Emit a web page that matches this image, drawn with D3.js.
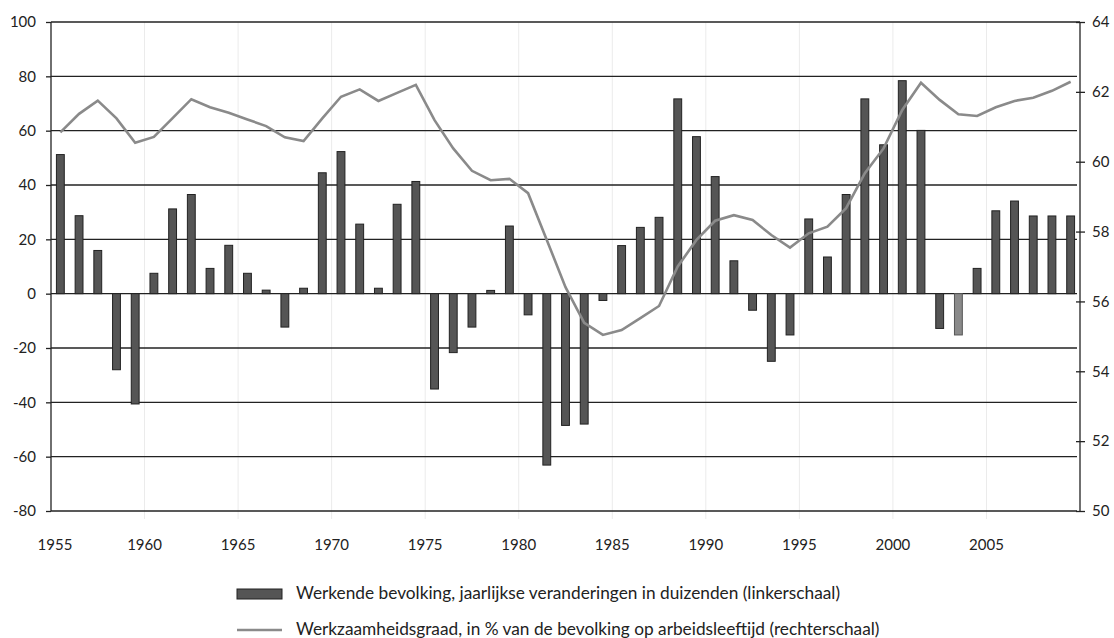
<!DOCTYPE html>
<html>
<head>
<meta charset="utf-8">
<script src="https://cdn.jsdelivr.net/npm/d3@7"></script>
<style>
  html, body { margin: 0; padding: 0; background: #fff; }
  svg { display: block; font-family: Lato, "Open Sans", sans-serif; }
</style>
</head>
<body>
<svg id="chart" width="1114" height="638"></svg>
<script>
// ---- Data ----
const years = [1955,1956,1957,1958,1959,1960,1961,1962,1963,1964,
  1965,1966,1967,1968,1969,1970,1971,1972,1973,1974,
  1975,1976,1977,1978,1979,1980,1981,1982,1983,1984,
  1985,1986,1987,1988,1989,1990,1991,1992,1993,1994,
  1995,1996,1997,1998,1999,2000,2001,2002,2003,2004,
  2005,2006,2007,2008,2009];

// Werkende bevolking, jaarlijkse veranderingen (duizenden) - left scale
const workforceChange = [51.2, 28.7, 15.9, -28.0, -40.6, 7.5, 31.2, 36.5, 9.3, 17.8,
  7.5, 1.3, -12.3, 2.0, 44.5, 52.3, 25.6, 2.0, 32.9, 41.3,
  -35.1, -21.7, -12.3, 1.2, 24.9, -7.8, -63.1, -48.5, -48.0, -2.5,
  17.7, 24.4, 28.1, 71.7, 57.8, 43.1, 12.1, -6.1, -24.9, -15.2,
  27.5, 13.5, 36.5, 71.7, 54.8, 78.4, 60.1, -12.8, -15.2, 9.3,
  30.5, 34.1, 28.6, 28.6, 28.6];

// Werkzaamheidsgraad (%) - right scale
const employmentRate = [60.84, 61.37, 61.75, 61.24, 60.54, 60.71, 61.25, 61.79, 61.56, 61.40,
  61.21, 61.02, 60.70, 60.59, 61.24, 61.86, 62.07, 61.74, 61.97, 62.20,
  61.19, 60.38, 59.74, 59.47, 59.51, 59.10, 57.76, 56.41, 55.39, 55.04,
  55.18, 55.52, 55.87, 57.00, 57.76, 58.31, 58.47, 58.33, 57.90, 57.54,
  57.95, 58.14, 58.67, 59.67, 60.38, 61.48, 62.26, 61.77, 61.36, 61.31,
  61.56, 61.74, 61.83, 62.03, 62.29];

// Highlighted (lighter) bar
const lighterYears = [2003];

const leftTicks = [100, 80, 60, 40, 20, 0, -20, -40, -60, -80];
const rightTicks = [64, 62, 60, 58, 56, 54, 52, 50];
const xTickYears = [1955, 1960, 1965, 1970, 1975, 1980, 1985, 1990, 1995, 2000, 2005];
const xGridYears = [1960, 1965, 1970, 1975, 1980, 1985, 1990, 1995, 2000, 2005];

const legendLabels = [
  "Werkende bevolking, jaarlijkse veranderingen in duizenden (linkerschaal)",
  "Werkzaamheidsgraad, in % van de bevolking op arbeidsleeftijd (rechterschaal)"
];

// ---- Layout ----
const svg = d3.select("#chart");
const L = 51, R = 1080, T = 22, B = 511;

const x = d3.scaleBand().domain(years).range([L, R]).paddingInner(0.58).paddingOuter(0.29);
const step = x.step();
const yL = d3.scaleLinear().domain([-80, 100]).range([B, T]);
const yR = d3.scaleLinear().domain([50, 64]).range([B, T]);

const dark = "#222";
const fmt = d => String(d);

// faint vertical gridlines
svg.append("g").selectAll("line").data(xGridYears).join("line")
  .attr("x1", d => x(d) - (step - x.bandwidth()) / 2)
  .attr("x2", d => x(d) - (step - x.bandwidth()) / 2)
  .attr("y1", T).attr("y2", B + 8)
  .attr("stroke", "#ebebeb").attr("stroke-width", 1);

// horizontal gridlines
svg.append("g").selectAll("line").data(leftTicks).join("line")
  .attr("x1", L).attr("x2", d => d === 100 ? R : R - 3)
  .attr("y1", d => yL(d)).attr("y2", d => yL(d))
  .attr("stroke", dark).attr("stroke-width", 1.3);

// left axis
const gL = svg.append("g").attr("transform", `translate(${L},0)`)
  .call(d3.axisLeft(yL).tickValues(leftTicks).tickSize(5).tickPadding(10).tickFormat(fmt));
gL.select(".domain").attr("stroke", dark).attr("stroke-width", 1.3).attr("d", `M0,${T}V${B}`);
gL.selectAll(".tick line").attr("stroke", dark).attr("stroke-width", 1.3);
gL.selectAll(".tick text").attr("font-size", 15).attr("fill", dark).attr("font-family", "Lato");

// right axis
const gR = svg.append("g").attr("transform", `translate(${R},0)`)
  .call(d3.axisRight(yR).tickValues(rightTicks).tickSize(5).tickPadding(7).tickFormat(fmt));
gR.select(".domain").attr("stroke", dark).attr("stroke-width", 1.3).attr("d", `M0,${T}V${B}`);
gR.selectAll(".tick line").attr("stroke", dark).attr("stroke-width", 1.3).attr("x1", -4);
gR.selectAll(".tick text").attr("font-size", 15).attr("fill", dark).attr("font-family", "Lato");

// x labels
svg.append("g").selectAll("text").data(xTickYears).join("text")
  .attr("x", d => x(d) - (step - x.bandwidth()) / 2 + (d === 1955 ? 4 : 0))
  .attr("y", 550)
  .attr("text-anchor", "middle")
  .attr("font-size", 15).attr("fill", dark)
  .text(d => d);

// bars
svg.append("g").selectAll("rect").data(years.map((yr, i) => ({yr, v: workforceChange[i]}))).join("rect")
  .attr("x", d => x(d.yr))
  .attr("width", x.bandwidth())
  .attr("y", d => yL(Math.max(0, d.v)))
  .attr("height", d => Math.abs(yL(d.v) - yL(0)))
  .attr("fill", d => lighterYears.includes(d.yr) ? "#8a8a8a" : "#555")
  .attr("stroke", d => lighterYears.includes(d.yr) ? "#555" : "#222")
  .attr("stroke-width", 1);

// line
const line = d3.line()
  .x((d, i) => x(years[i]) + x.bandwidth() / 2)
  .y(d => yR(d));
svg.append("path").datum(employmentRate)
  .attr("d", line)
  .attr("fill", "none")
  .attr("stroke", "#8a8a8a")
  .attr("stroke-width", 2.6)
  .attr("stroke-linejoin", "miter");

// legend
const lg = svg.append("g");
lg.append("rect").attr("x", 237).attr("y", 589).attr("width", 45).attr("height", 10)
  .attr("fill", "#555").attr("stroke", "#222").attr("stroke-width", 1);
lg.append("line").attr("x1", 237).attr("x2", 282).attr("y1", 630).attr("y2", 630)
  .attr("stroke", "#8a8a8a").attr("stroke-width", 2.6);
const lt = lg.selectAll("text").data(legendLabels).join("text")
  .attr("x", 296)
  .attr("y", (d, i) => i === 0 ? 599 : 635)
  .attr("font-size", 16).attr("fill", dark)
  .text(d => d);
// fit legend font size to reference width of first row (~544px)
const w0 = lt.nodes()[0].getComputedTextLength();
const fs = 16 * 544 / w0;
lt.attr("font-size", fs.toFixed(2));
</script>
</body>
</html>
